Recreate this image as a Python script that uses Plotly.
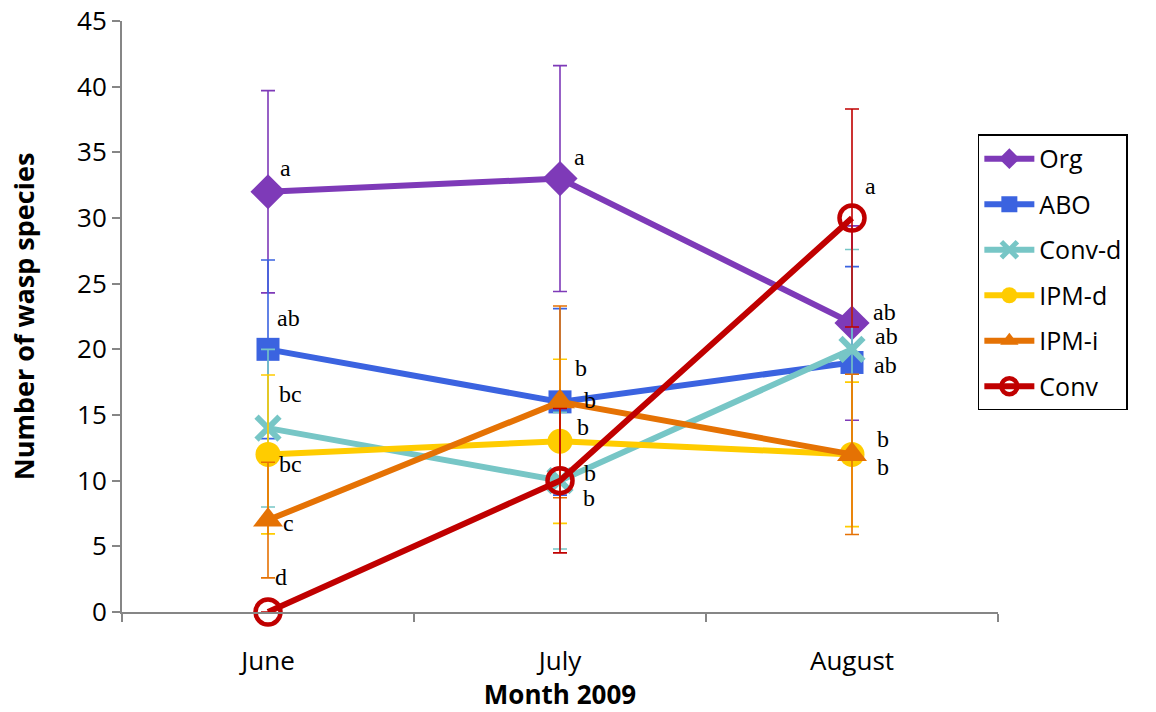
import plotly.graph_objects as go

# Sampling months
months = ["June", "July", "August"]

# Mean number of wasp species per management system
series_names = ["Org", "ABO", "Conv-d", "IPM-d", "IPM-i", "Conv"]
org = [32, 33, 22]
abo = [20, 16, 19]
conv_d = [14, 10, 20]
ipm_d = [12, 13, 12]
ipm_i = [7, 16, 12]
conv = [0, 10, 30]

# Error bar half-lengths
org_err = [7.7, 8.6, 7.4]
abo_err = [6.8, 7.1, 7.3]
conv_d_err = [6.0, 5.2, 7.6]
ipm_d_err = [6.05, 6.25, 5.5]
ipm_i_err = [4.4, 7.3, 6.1]
conv_err = [0.0, 5.5, 8.3]

# Significance letters
org_letters = ["a", "a", "ab"]
abo_letters = ["ab", "b", "ab"]
conv_d_letters = ["bc", "b", "ab"]
ipm_d_letters = ["bc", "b", "b"]
ipm_i_letters = ["c", "b", "b"]
conv_letters = ["d", "b", "a"]

values = [org, abo, conv_d, ipm_d, ipm_i, conv]
errors = [org_err, abo_err, conv_d_err, ipm_d_err, ipm_i_err, conv_err]
letters = [org_letters, abo_letters, conv_d_letters, ipm_d_letters,
           ipm_i_letters, conv_letters]

colors = ["#7E3AB8", "#3B63E0", "#77C6C6", "#FFCC00", "#E57204", "#C00000"]
symbols = ["diamond", "square", "x-thin-open", "circle", "triangle-up",
           "circle-open"]
msizes = [27, 23, 23, 25, 26, 25]
mlines = [0, 0, 6, 0, 0, 4.5]

# Pixel offsets of each letter from its marker (x, y)
label_shift = [
    [(17, 24), (19, 22), (32, 11)],
    [(20, 31), (21, 34), (33, -3)],
    [(22, 34), (30, 8), (34, 13)],
    [(22, -10), (23, 14), (31, 15)],
    [(20, -3), (30, 2), (31, -13)],
    [(13, 35), (29, -17), (18, 32)],
]

fig = go.Figure()
for name, ys, err, col, sym, ms, ml in zip(series_names, values, errors,
                                           colors, symbols, msizes, mlines):
    fig.add_trace(go.Scatter(
        x=months, y=ys, name=name, mode="lines+markers",
        line=dict(color=col, width=6),
        marker=dict(symbol=sym, size=ms, color=col,
                    line=dict(color=col, width=ml)),
        error_y=dict(type="data", array=err, visible=True, color=col,
                     thickness=1.6, width=7),
        cliponaxis=False, legendgroup=name,
    ))

annotations = []
for ys, labs, shifts in zip(values, letters, label_shift):
    for m, y, lab, (dx, dy) in zip(months, ys, labs, shifts):
        annotations.append(dict(
            x=m, y=y, xref="x", yref="y", text=lab, showarrow=False,
            xanchor="center", yanchor="middle", xshift=dx, yshift=dy,
            font=dict(family="Liberation Serif", size=24, color="black"),
        ))

axis_font = dict(family="Open Sans", size=26, color="black")
fig.update_layout(
    width=1156, height=712,
    margin=dict(l=122, r=158, t=21, b=100, autoexpand=False),
    plot_bgcolor="white", paper_bgcolor="white",
    showlegend=True,
    legend=dict(x=0.977, y=0.808, xanchor="left", yanchor="top",
                bordercolor="black", borderwidth=1.5, bgcolor="white",
                font=dict(family="Open Sans", size=25, color="black"),
                tracegroupgap=10, itemwidth=50),
    annotations=annotations,
    xaxis=dict(
        type="category", range=[-0.5, 2.5], tickson="boundaries",
        ticks="outside", ticklen=8, tickcolor="#868686", tickwidth=2,
        showline=True, linecolor="#868686", linewidth=2,
        showgrid=False, zeroline=False, tickfont=axis_font,
        ticklabelstandoff=25, automargin=False,
        title=dict(text="<b>Month 2009</b>", standoff=9,
                   font=dict(family="Open Sans", size=26, color="black")),
    ),
    yaxis=dict(
        range=[0, 45], dtick=5, ticks="outside", ticklen=8,
        tickcolor="#868686", tickwidth=2,
        showline=True, linecolor="#868686", linewidth=2,
        showgrid=False, zeroline=False, tickfont=axis_font,
        automargin=False,
        title=dict(text="<b>Number of wasp species</b>", standoff=35,
                   font=dict(family="Open Sans", size=27, color="black")),
    ),
)

fig.write_html("out.html")
